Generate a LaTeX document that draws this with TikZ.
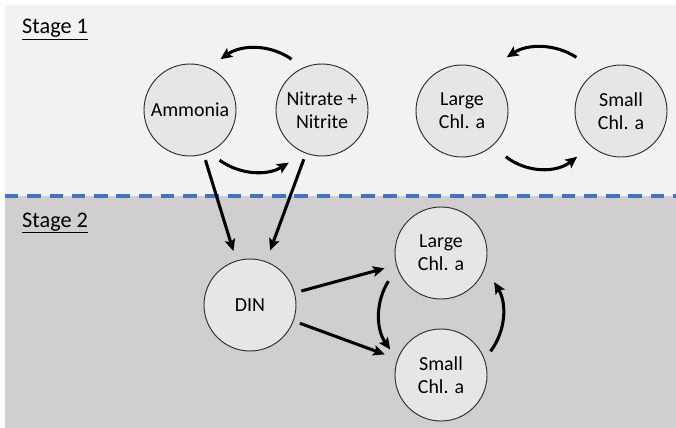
\documentclass[tikz,border=0pt]{standalone}
\usepackage{fontspec}
\setmainfont{Carlito}
\usetikzlibrary{arrows.meta,calc}
\definecolor{topgray}{HTML}{F2F2F2}
\definecolor{botgray}{HTML}{D0CECE}
\definecolor{poolfill}{HTML}{E7E6E6}
\definecolor{poolline}{HTML}{2E2E2E}
\definecolor{splitblue}{HTML}{4472C4}
\begin{document}
\begin{tikzpicture}[x=0.03cm, y=-0.03cm,
    pool/.style = {circle, draw=poolline, line width=0.8pt, fill=poolfill, minimum size=2.76cm, inner sep=0pt, align=center, font=\fontsize{17}{19.5}\selectfont},
    flow/.style = {line width=2.6pt, -{Stealth[length=10pt, width=9pt, inset=2pt]}},
    stage/.style = {anchor=base west, inner sep=0pt, font=\fontsize{19}{22}\selectfont}]
            \useasboundingbox (0,0) rectangle (676,428);
            \fill[topgray] (5,5) rectangle (676,196);
            \fill[botgray] (5,196) rectangle (676,428);
            \draw[splitblue, line width=2.6pt, dash pattern=on 11.5pt off 7.5pt] (5,196) -- (676,196);
            \node[stage] (s1) at (22,34) {\underline{Stage 1}};
            \node[stage] (s2) at (22,227) {\underline{Stage 2}};
            % stage 1 pools
            \node[pool] (amm) at (190,110) {Ammonia};
            \node[pool] (nit) at (322,110) {Nitrate +\\Nitrite};
            \node[pool] (lg1) at (462,111) {Large\\Chl. a};
            \node[pool] (sm1) at (621,111) {Small\\Chl. a};
            % stage 2 pools
            \node[pool] (din) at (250,305) {DIN};
            \node[pool] (lg2) at (441,253) {Large\\Chl. a};
            \node[pool] (sm2) at (441,375) {Small\\Chl. a};
            \coordinate (c1) at ($(amm)!0.5!(nit)$);
            \coordinate (c2) at ($(lg1)!0.5!(sm1)$);
            \coordinate (c3) at ($(lg2)!0.5!(sm2)$);
            \draw[flow] (c1) ++(55:1.86cm) arc[start angle=55, end angle=125, radius=1.86cm];
            \draw[flow] (c1) ++(234:1.86cm) arc[start angle=234, end angle=302, radius=1.86cm];
            \draw[flow] (c2) ++(57:1.92cm) arc[start angle=57, end angle=123, radius=1.92cm];
            \draw[flow] (c2) ++(232:1.74cm) arc[start angle=232, end angle=308, radius=1.74cm];
            \draw[flow] (c3) ++(148:1.86cm) arc[start angle=148, end angle=215, radius=1.86cm];
            \draw[flow] (c3) ++(-37:1.86cm) arc[start angle=-37, end angle=31, radius=1.86cm];
            \draw[flow, shorten <=0.18cm, shorten >=0.3cm] (amm) -- (din);
            \draw[flow, shorten <=0.18cm, shorten >=0.35cm] (nit) -- (din);
            \draw[flow, shorten <=0.2cm, shorten >=0.36cm] (din) -- (lg2);
            \draw[flow, shorten <=0.2cm, shorten >=0.4cm] (din) -- (sm2);
          \end{tikzpicture}
\end{document}
